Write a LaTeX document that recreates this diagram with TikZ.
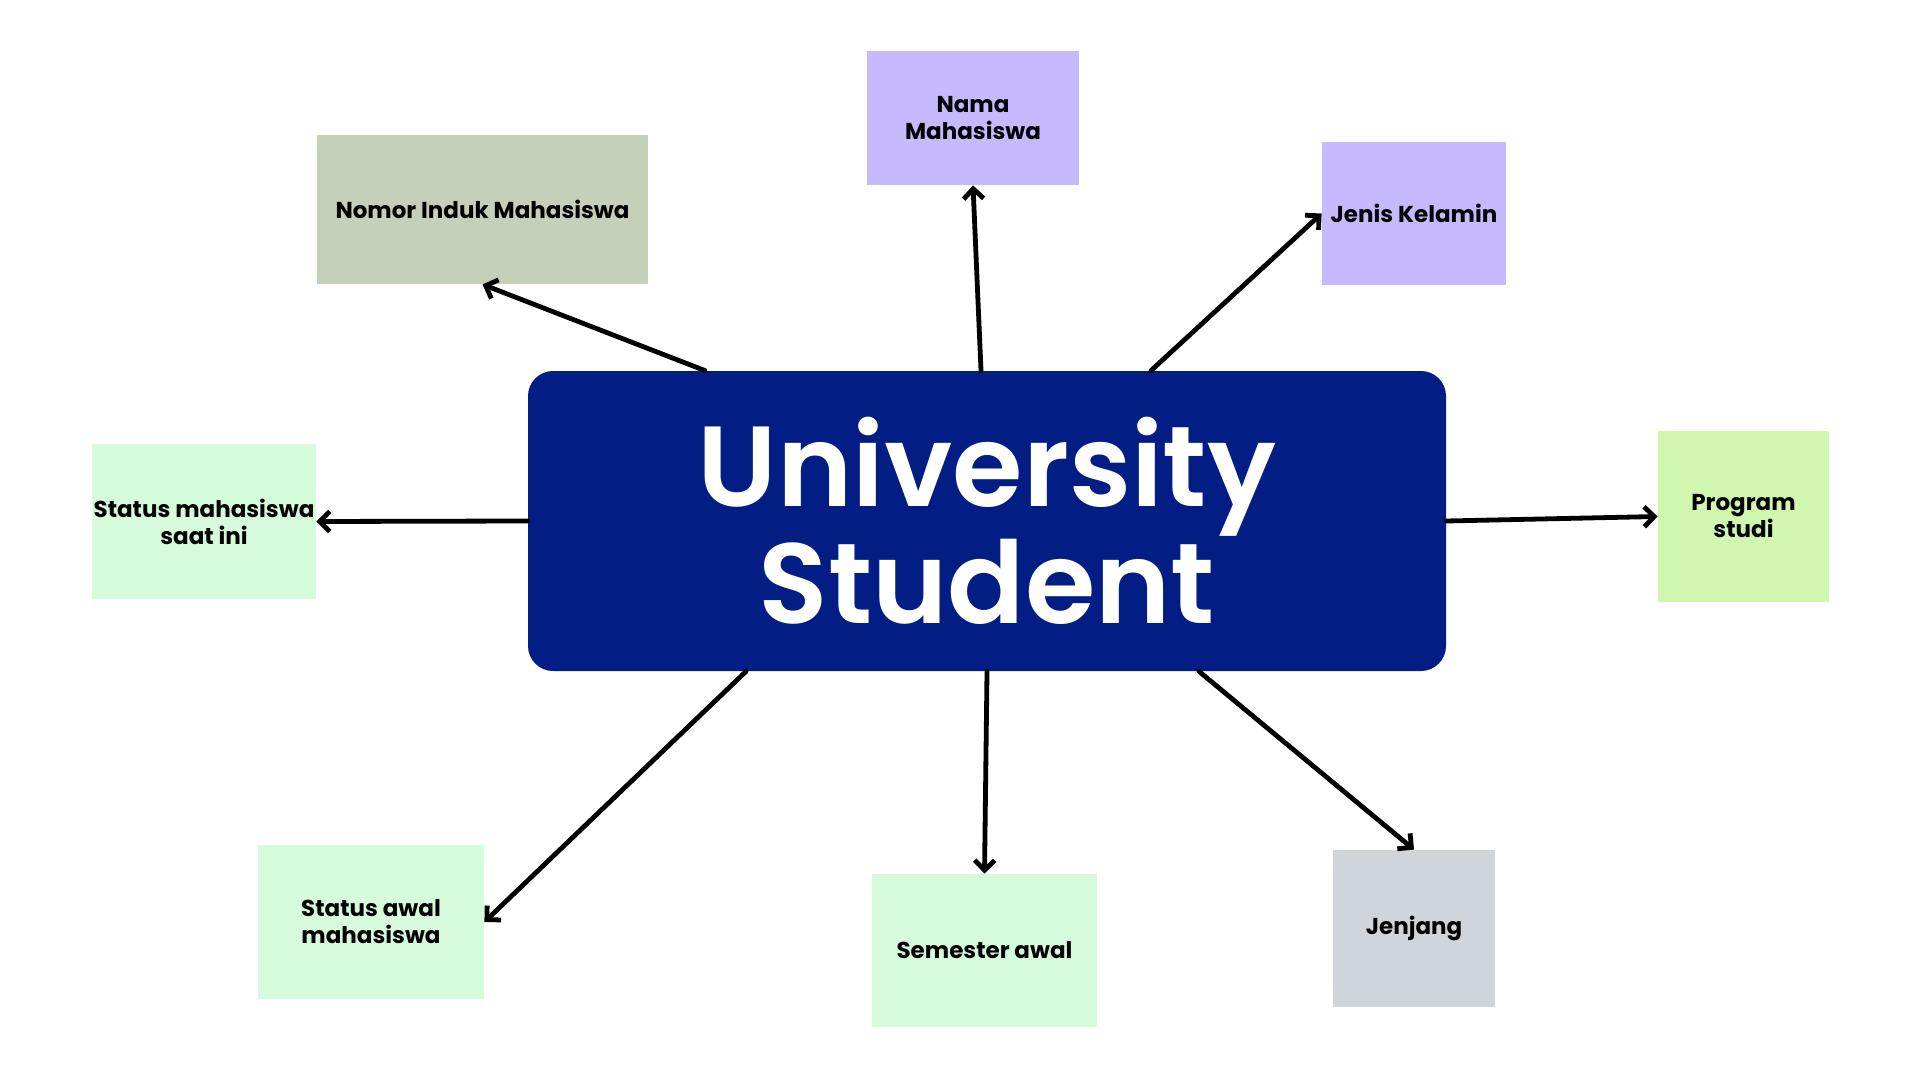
\documentclass[tikz,border=0pt]{standalone}
\usepackage{fontspec}
\usetikzlibrary{arrows.meta,calc}
\newfontfamily\popfont{Poppins}
\newfontfamily\popsb{Poppins SemiBold}
\definecolor{navyc}{RGB}{2,29,131}
\definecolor{lavc}{RGB}{198,185,253}
\definecolor{sagec}{RGB}{196,208,184}
\definecolor{mintc}{RGB}{213,251,219}
\definecolor{limec}{RGB}{207,247,176}
\definecolor{grayc}{RGB}{208,212,219}
\tikzset{
  lbox/.style={rectangle, inner sep=0pt, align=center, text=black,
    font=\popfont\bfseries\fontsize{11.5}{13.5}\selectfont},
  hub/.style={rectangle, rounded corners=12.5pt, fill=navyc, inner sep=0pt,
    text=white, align=center, minimum width=459pt, minimum height=150pt,
    font=\popsb\fontsize{57}{58.5}\selectfont},
  arr/.style={-{Straight Barb[length=5pt,width=10pt,line width=2.4pt]}, line width=2.4pt, line cap=round, black}
}
\begin{document}
\begin{tikzpicture}[x=0.5pt,y=-0.5pt]
\useasboundingbox[fill=white] (0,0) rectangle (1920,1080);
\node[hub] (c) at (987,521) {University\\Student};
\node[lbox, fill=lavc, minimum width=106pt, minimum height=67pt] (nama) at (973,118) {Nama\\Mahasiswa};
\node[lbox, fill=sagec, minimum width=165.5pt, minimum height=74.5pt] (nomor) at (482.5,209.5) {Nomor Induk Mahasiswa};
\node[lbox, fill=lavc, minimum width=92pt, minimum height=71.5pt] (jenis) at (1414,213.5) {Jenis Kelamin};
\node[lbox, fill=mintc, minimum width=112pt, minimum height=77.5pt] (saatini) at (204,521.5) {Status mahasiswa\\saat ini};
\node[lbox, fill=limec, minimum width=85.5pt, minimum height=85.5pt] (prodi) at (1743.5,516.5) {Program\\studi};
\node[lbox, fill=mintc, minimum width=113pt, minimum height=77pt] (awal) at (371,922) {Status awal\\mahasiswa};
\node[lbox, fill=mintc, minimum width=112.5pt, minimum height=76.5pt] (sem) at (984.5,950.5) {Semester awal};
\node[lbox, fill=grayc, minimum width=81pt, minimum height=78.5pt] (jenjang) at (1414,928.5) {Jenjang};
\draw[arr] ($(c.north)+(-282,0)$) -- (nomor.south);
\draw[arr] ($(c.north)+(-6,0)$) -- (nama.south);
\draw[arr] ($(c.north)+(164,0)$) -- (jenis.west);
\draw[arr] (c.west) -- (saatini.east);
\draw[arr] (c.east) -- (prodi.west);
\draw[arr] ($(c.south)+(-241,0)$) -- (awal.east);
\draw[arr] (c.south) -- (sem.north);
\draw[arr] ($(c.south)+(212,0)$) -- (jenjang.north);
\end{tikzpicture}
\end{document}
